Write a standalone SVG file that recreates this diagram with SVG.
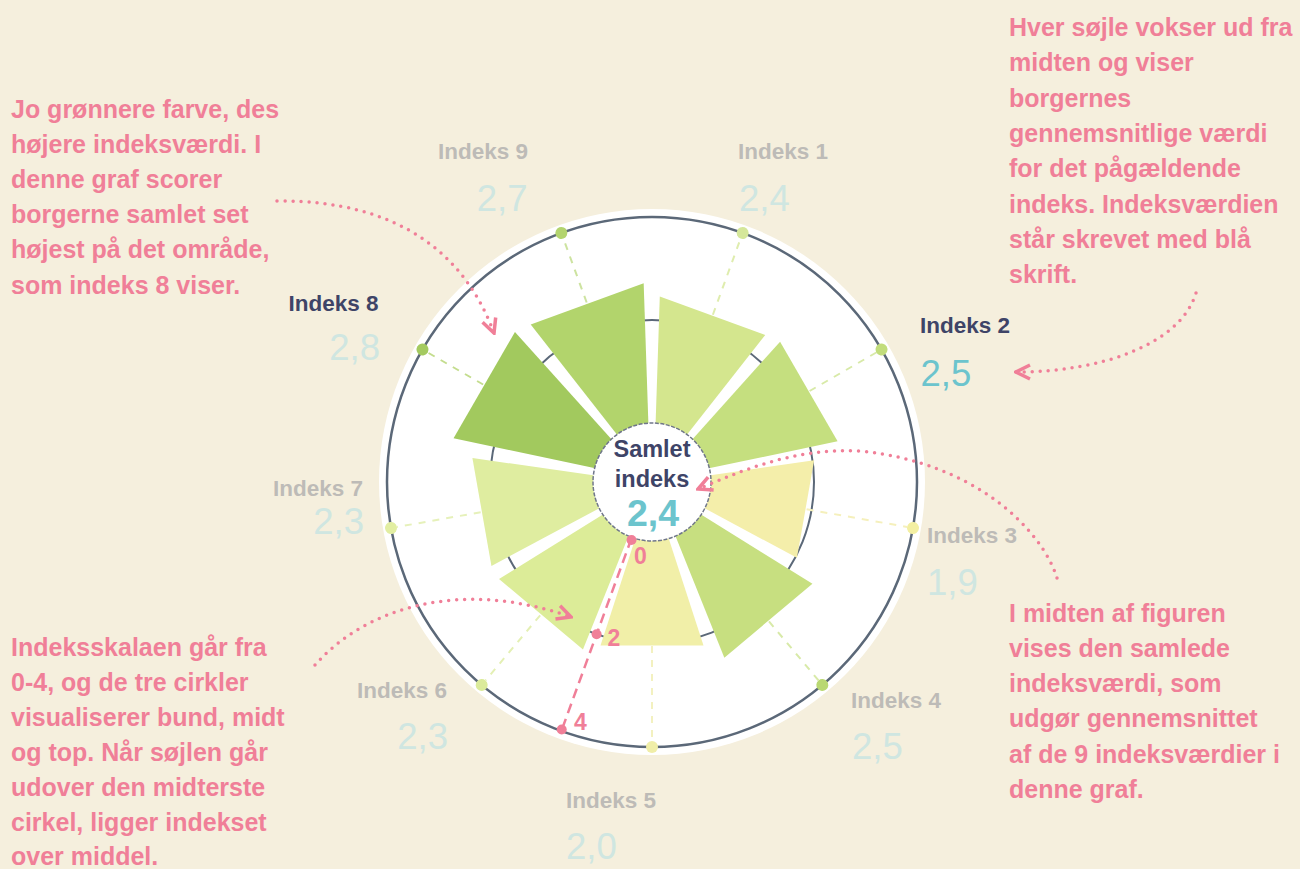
<svg xmlns="http://www.w3.org/2000/svg" width="1300" height="869" viewBox="0 0 1300 869">
<style>
.ann{font-family:"Liberation Sans",Arial,sans-serif;font-weight:bold;font-size:25px;fill:#f07f98}
.lbl{font-family:"Liberation Sans",Arial,sans-serif;font-weight:bold;font-size:22.5px;fill:#bdbbb7}
.dark{fill:#3e4467}
.val{font-family:"Liberation Sans",Arial,sans-serif;font-size:36.5px;fill:#cfe6e1}
.hi{fill:#6cc4cd}
.spoke{stroke-width:2;stroke-dasharray:7 7;fill:none}
.ring{fill:none;stroke:#5b6878}
.dotted{fill:none;stroke:#f07f98;stroke-width:3.5;stroke-linecap:round;stroke-dasharray:0 8}
.scl{font-family:"Liberation Sans",Arial,sans-serif;font-weight:bold;font-size:23px;fill:#f07f98}
.ctr{font-family:"Liberation Sans",Arial,sans-serif;font-weight:bold;font-size:23.5px;fill:#3e4467}
</style>
<defs>
<marker id="chev" viewBox="-2 -2 18 18" refX="14" refY="7" markerWidth="18" markerHeight="18" markerUnits="userSpaceOnUse" orient="auto">
<path d="M0,0 L14,7 L0,14" fill="none" stroke="#f07f98" stroke-width="3.5" stroke-dasharray="none" stroke-linejoin="miter"/>
</marker>
</defs>
<rect width="1300" height="869" fill="#f5efdd"/>
<g id="chart-base">
<circle cx="652" cy="482" r="273" fill="#ffffff"/>
<circle class="ring" cx="652" cy="482" r="162" stroke-width="2"/>
<circle class="ring" cx="652" cy="482" r="265" stroke-width="2.5"/>
</g>
<g id="index1" transform="translate(652 482) rotate(20)">
<polygon points="-12.4,-43.3 -56.1,-176.9 56.1,-176.9 12.4,-43.3" fill="#d4e68e"/>
<line class="spoke" x1="0" y1="-178" x2="0" y2="-259" stroke="#dfedae"/>
<circle cx="0" cy="-265" r="6" fill="#d5e79a"/>
</g>
<g id="index2" transform="translate(652 482) rotate(60)">
<polygon points="-12.4,-43.3 -57.5,-181.1 57.5,-181.1 12.4,-43.3" fill="#c5df7f"/>
<line class="spoke" x1="0" y1="-182" x2="0" y2="-259" stroke="#d8eaa8"/>
<circle cx="0" cy="-265" r="6" fill="#c2dd7c"/>
</g>
<g id="index3" transform="translate(652 482) rotate(100)">
<polygon points="-12.4,-43.3 -49.5,-155.9 49.5,-155.9 12.4,-43.3" fill="#f4eeaa"/>
<line class="spoke" x1="0" y1="-157" x2="0" y2="-259" stroke="#f5f0bc"/>
<circle cx="0" cy="-265" r="6" fill="#f3efa2"/>
</g>
<g id="index4" transform="translate(652 482) rotate(140)">
<polygon points="-12.4,-43.3 -57.5,-181.1 57.5,-181.1 12.4,-43.3" fill="#c7df80"/>
<line class="spoke" x1="0" y1="-182" x2="0" y2="-259" stroke="#d8eaa8"/>
<circle cx="0" cy="-265" r="6" fill="#b9d872"/>
</g>
<g id="index5" transform="translate(652 482) rotate(180)">
<polygon points="-12.4,-43.3 -51.5,-163.5 51.5,-163.5 12.4,-43.3" fill="#f1efa8"/>
<line class="spoke" x1="0" y1="-164" x2="0" y2="-259" stroke="#f3f1c0"/>
<circle cx="0" cy="-265" r="6" fill="#f0eea8"/>
</g>
<g id="index6" transform="translate(652 482) rotate(220)">
<polygon points="-12.4,-43.3 -54.8,-172.7 54.8,-172.7 12.4,-43.3" fill="#dcec98"/>
<line class="spoke" x1="0" y1="-174" x2="0" y2="-259" stroke="#e4f0b4"/>
<circle cx="0" cy="-265" r="6" fill="#dbeb9a"/>
</g>
<g id="index7" transform="translate(652 482) rotate(260)">
<polygon points="-12.4,-43.3 -54.8,-172.7 54.8,-172.7 12.4,-43.3" fill="#dfeda0"/>
<line class="spoke" x1="0" y1="-174" x2="0" y2="-259" stroke="#e6f1ba"/>
<circle cx="0" cy="-265" r="6" fill="#e2eea2"/>
</g>
<g id="index8" transform="translate(652 482) rotate(300)">
<polygon points="-12.4,-43.3 -61.4,-193.7 61.4,-193.7 12.4,-43.3" fill="#a2c95e"/>
<line class="spoke" x1="0" y1="-195" x2="0" y2="-259" stroke="#c4dd8e"/>
<circle cx="0" cy="-265" r="6" fill="#a4ca60"/>
</g>
<g id="index9" transform="translate(652 482) rotate(340)">
<polygon points="-12.4,-43.3 -60.1,-189.5 60.1,-189.5 12.4,-43.3" fill="#b2d46c"/>
<line class="spoke" x1="0" y1="-191" x2="0" y2="-259" stroke="#cde3a0"/>
<circle cx="0" cy="-265" r="6" fill="#b3d46e"/>
</g>
<g id="labels">
<text class="lbl" x="438" y="159">Indeks 9</text>
<text class="val" x="527.5" y="211" text-anchor="end">2,7</text>
<text class="lbl" x="738" y="159">Indeks 1</text>
<text class="val" x="739" y="211">2,4</text>
<text class="lbl dark" x="288.5" y="310.5">Indeks 8</text>
<text class="val" x="380" y="360" text-anchor="end">2,8</text>
<text class="lbl dark" x="920" y="332.5">Indeks 2</text>
<text class="val hi" x="920.5" y="386">2,5</text>
<text class="lbl" x="927" y="542.5">Indeks 3</text>
<text class="val" x="927" y="595">1,9</text>
<text class="lbl" x="851" y="708">Indeks 4</text>
<text class="val" x="852" y="759">2,5</text>
<text class="lbl" x="566" y="808">Indeks 5</text>
<text class="val" x="566" y="859">2,0</text>
<text class="lbl" x="357" y="698">Indeks 6</text>
<text class="val" x="448" y="749" text-anchor="end">2,3</text>
<text class="lbl" x="273" y="496">Indeks 7</text>
<text class="val" x="364" y="534" text-anchor="end">2,3</text>
</g>
<g id="center">
<circle cx="652" cy="482" r="59" fill="#ffffff" stroke="#70778a" stroke-width="1.5" stroke-dasharray="4 1.5"/>
<text class="ctr" x="652" y="457" text-anchor="middle">Samlet</text>
<text class="ctr" x="652" y="487" text-anchor="middle">indeks</text>
<text x="653" y="525.5" text-anchor="middle" font-family="Liberation Sans, Arial, sans-serif" font-weight="bold" font-size="37.5px" fill="#6cc4cd">2,4</text>
</g>
<g id="scale">
<line x1="631.5" y1="538.4" x2="561.7" y2="730.1" stroke="#f07f98" stroke-width="2.5" stroke-dasharray="10 6"/>
<circle cx="631.5" cy="540" r="5" fill="#f07f98"/>
<circle cx="596.6" cy="634.2" r="5" fill="#f07f98"/>
<circle cx="561.7" cy="729.5" r="5" fill="#f07f98"/>
<text class="scl" x="634" y="564">0</text>
<text class="scl" x="607.5" y="646">2</text>
<text class="scl" x="574" y="730">4</text>
</g>
<g id="connectors">
<path class="dotted" d="M277,201 C400,200 465,255 494,333" marker-end="url(#chev)"/>
<path class="dotted" d="M1196,293 C1180,345 1100,372 1016,372" marker-end="url(#chev)"/>
<path class="dotted" d="M1057,578 C1042,530 975,462 860,451 C800,448 752,466 698,489" marker-end="url(#chev)"/>
<path class="dotted" d="M315,665 C365,608 460,578 571,617" marker-end="url(#chev)"/>
</g>
<g id="note-top-left">
<text class="ann" x="11" y="118">Jo grønnere farve, des</text>
<text class="ann" x="11" y="153.1">højere indeksværdi. I</text>
<text class="ann" x="11" y="188.2">denne graf scorer</text>
<text class="ann" x="11" y="223.3">borgerne samlet set</text>
<text class="ann" x="11" y="258.4">højest på det område,</text>
<text class="ann" x="11" y="293.5">som indeks 8 viser.</text>
</g>
<g id="note-top-right">
<text class="ann" x="1009" y="36">Hver søjle vokser ud fra</text>
<text class="ann" x="1009" y="71.3">midten og viser</text>
<text class="ann" x="1009" y="106.6">borgernes</text>
<text class="ann" x="1009" y="141.9">gennemsnitlige værdi</text>
<text class="ann" x="1009" y="177.2">for det pågældende</text>
<text class="ann" x="1009" y="212.5">indeks. Indeksværdien</text>
<text class="ann" x="1009" y="247.8">står skrevet med blå</text>
<text class="ann" x="1009" y="283.1">skrift.</text>
</g>
<g id="note-bottom-left">
<text class="ann" x="11" y="655.5">Indeksskalaen går fra</text>
<text class="ann" x="11" y="690.5">0-4, og de tre cirkler</text>
<text class="ann" x="11" y="725.5">visualiserer bund, midt</text>
<text class="ann" x="11" y="760.5">og top. Når søjlen går</text>
<text class="ann" x="11" y="795.5">udover den midterste</text>
<text class="ann" x="11" y="830.5">cirkel, ligger indekset</text>
<text class="ann" x="11" y="865">over middel.</text>
</g>
<g id="note-bottom-right">
<text class="ann" x="1009" y="621.5">I midten af figuren</text>
<text class="ann" x="1009" y="656.8">vises den samlede</text>
<text class="ann" x="1009" y="692.1">indeksværdi, som</text>
<text class="ann" x="1009" y="727.4">udgør gennemsnittet</text>
<text class="ann" x="1009" y="762.7">af de 9 indeksværdier i</text>
<text class="ann" x="1009" y="798">denne graf.</text>
</g>
</svg>
